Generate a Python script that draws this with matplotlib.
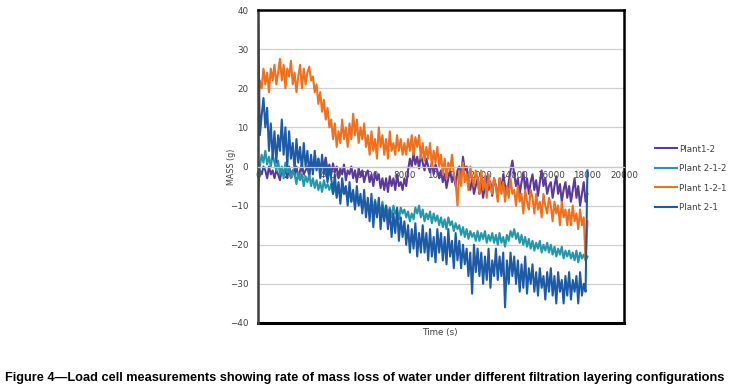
import matplotlib
matplotlib.use("Agg")
import matplotlib.pyplot as plt
import numpy as np

time_step = 100
time_max = 18000

plant1_2 = [
    0, -1, -2, 0, -1, -3, 0, -2, -1, -3,
    -1, -2, -3.5, -0.5, -2, -1, -3, 0, -2, -1,
    -2, 0, -3, -1, 0.5, -2, -1, 0, -2.5, 1,
    -1, 1, -0.5, 2, -1, 1.5, 0, 2.3, -1, 0.5,
    -2, 0.8, -1.5, 0, -3, -0.5, -2, 0.5, -3.5, -1,
    -2, 0, -3, -1, -4, -0.5, -2.5, -1, -4, -2,
    -1, -4, -2, -5, -1.5, -3.5, -2, -5.5, -3, -6,
    -3, -6.5, -2.5, -5, -3, -6, -2, -5, -4, -6,
    -3, -5, -1, 2, 0, 3.5, 0.5, 2.5, -0.5, 3,
    1, -1, 2, 0, -1.5, 1, -2, 0.5, -1, -3,
    -1, -4, -2, -5.5, -3, -1, -4, -2, -5, -1,
    0, -3, 2.5, -1, 0, -4, -6, -3, -7, -5,
    -3, -7, -4, -8, -5, -2.5, -6, -4, -7.5, -3,
    -5, -8, -3, -6, -2, -5, -7, -4, -1, 1.5,
    -2, -5, -3, -7, -4, -1.5, -6, -3, -7, -4,
    -2, -6, -3.5, -7.5, -4, -1, -5, -3, -7, -5,
    -4, -8, -5, -2.5, -7, -4.5, -9, -6, -4, -8,
    -5, -9, -6, -3, -8, -5, -10, -7, -4, -9,
    -7,
]

plant2_1_2 = [
    -7, 0, 3, 1, 4, 0.5, 2.5, 0, 3, 1,
    -1, 1.5, -2, 0, -3, 1, -1.5, -0.5, -3, -1,
    -2, -4.5, -1.5, -3.5, -2, -5, -2.5, -4, -2, -5,
    -3, -5.5, -3.5, -6, -4, -6.5, -3.5, -5.5, -4.5, -6,
    -4.5, -7, -5, -7.5, -4.5, -8, -5.5, -7, -6, -8.5,
    -6.5, -9, -7, -10, -7.5, -9.5, -8, -11, -8.5, -10.5,
    -9, -12, -9.5, -11, -8.5, -12, -10, -11.5, -9, -12.5,
    -10, -12.5, -10.5, -13, -10, -12, -11, -13.5, -10.5, -12,
    -11, -13, -11.5, -14, -12, -13.5, -10.5, -12, -10, -13,
    -11, -14, -12, -13.5, -11.5, -14.5, -12, -14, -12.5, -15,
    -13, -15.5, -13.5, -16, -13, -15, -14, -16.5, -14.5, -16,
    -15, -17.5, -15.5, -18, -16, -18.5, -16.5, -18, -17, -19,
    -16.5, -19, -17, -18.5, -16.5, -19.5, -17.5, -19, -17, -19.5,
    -17.5, -20, -17, -19.5, -18, -20.5, -17.5, -19, -16.5, -18,
    -16, -18.5, -17, -19.5, -17.5, -20, -18, -20.5, -18.5, -21,
    -19, -21.5, -19.5, -21, -19, -22, -20, -21.5, -19.5, -22,
    -20, -22.5, -20.5, -23, -21, -22.5, -20.5, -23.5, -21.5, -23,
    -21.5, -23.5, -22, -24, -21.5, -24.5, -22, -23.5, -22.5, -24,
    -23,
]

plant1_2_1 = [
    14, 22, 20, 25, 21, 24, 19, 25, 22, 26,
    21, 24, 27.5, 22, 26, 20, 25, 23, 27, 21,
    24, 19, 23, 26, 20, 25, 21, 24, 25.5, 22,
    23, 19, 21, 16, 19, 14, 17, 12, 15, 10,
    12, 7, 11, 5, 9, 6, 12, 7, 10, 5,
    11, 7, 13.5, 8, 12, 6, 10, 7, 11, 5,
    8, 3, 9, 4, 7, 2, 10, 5, 8, 3,
    7, 2, 9, 4, 6, 3, 8, 4, 7, 3,
    6, 3, 7, 4, 8, 3, 7.5, 5, 8, 2,
    6, 1.5, 5, 2, 6, 0, 4, 1, 5, 0,
    3, -2, 2, -3, 1, -1, 3, -2, -4, -10,
    -1, -5, 1, -4, -2, -6, 0, -3, -5, -1,
    -3, -7, -1, -6, -3, -8, -2, -5, -7, -3,
    -5, -9, -3, -7, -4, -9, -5, -8, -3, -7,
    -6, -10, -5, -9, -7, -12, -6, -9, -11, -6,
    -8, -12, -7, -11, -9, -13, -7, -10, -12, -8,
    -10, -14, -9, -12, -10, -15, -9, -13, -11, -15,
    -11, -15, -10, -14, -12, -16, -11, -15, -13, -24,
    -14,
]

plant2_1 = [
    40, 8, 13, 17.5, 10, 15, 4, 11, 2, 9,
    1, 8, 4, 12, 3, 10, 0, 9, 2, 6,
    -1, 7, 1, 5, -1, 6, 0, 4, -2, 3,
    -2, 4, -1, 2, -3, 3, -2, 1, -4, 0,
    -3, -7, -2, -8, -4, -9.5, -3, -7, -5, -10,
    -4, -9, -6, -11, -5, -10, -7, -12, -6, -13,
    -8, -14, -7, -15.5, -9, -13, -8, -16, -10, -14,
    -10, -16, -11, -18, -12, -17, -10.5, -19, -13, -18,
    -14, -20, -15, -22, -16, -21, -14.5, -23, -17, -22,
    -15, -22, -17, -24, -16, -23, -18, -24.5, -16, -22,
    -17, -24, -18, -25, -16, -23, -19, -26, -17, -24,
    -19, -26, -20, -25, -21, -28, -22, -32.5, -20, -27,
    -21, -28, -22, -30, -23, -29, -21, -31, -24, -28,
    -21, -29, -23, -28, -22, -36, -24, -30, -22, -28,
    -23, -30, -24, -32, -25, -31, -23, -32.5, -26, -30,
    -25, -32, -27, -33, -26, -31, -28, -34, -27, -32,
    -26, -33, -28, -35, -27, -32, -29, -35, -28, -33,
    -27, -34, -29, -32, -28, -35, -27, -33, -30, -32,
    -1,
]

series_names = ["Plant1-2", "Plant 2-1-2", "Plant 1-2-1", "Plant 2-1"]
series_values = [plant1_2, plant2_1_2, plant1_2_1, plant2_1]
series_colors = ["#5B3A98", "#2398AC", "#F0701E", "#1D5BA6"]

x_ticks = list(range(0, 20001, 2000))
y_ticks = list(range(-40, 41, 10))

caption = ("Figure 4\u2014Load cell measurements showing rate of mass loss of water "
           "under different filtration layering configurations")

t = np.arange(0, time_max + 1, time_step)

W, H = 734, 390
fig = plt.figure(figsize=(W / 100, H / 100), dpi=100)
ax = fig.add_axes([258 / W, 1 - 323 / H, (624 - 258) / W, (323 - 10) / H])

for name, vals, col in zip(series_names, series_values, series_colors):
    ax.plot(t, vals, color=col, lw=1.5, label=name)

ax.set_xlim(0, 20000)
ax.set_ylim(-40, 40)
ax.set_yticks(y_ticks)
ax.set_xticks(x_ticks)
ax.set_xticklabels([str(v) for v in x_ticks])
ax.grid(axis="y", color="#D0D0D0", lw=0.9)
ax.set_axisbelow(True)

for s in ["top", "right", "left"]:
    ax.spines[s].set_color("black")
    ax.spines[s].set_linewidth(1.8)
ax.spines["left"].set_color("#404040")
ax.spines["bottom"].set_position(("data", 0))
ax.spines["bottom"].set_color("#C8C8C8")
ax.spines["bottom"].set_linewidth(0.9)
ax.plot([0, 1], [0, 0], transform=ax.transAxes, color="black", lw=2.2, clip_on=False)

ax.tick_params(axis="x", length=0, pad=3, labelsize=6.3, labelcolor="#404040")
ax.tick_params(axis="y", length=0, pad=7, labelsize=6.3, labelcolor="#404040")
for lbl in ax.get_xticklabels():
    lbl.set_zorder(5)

fig.text(232 / W, 1 - 167 / H, "MASS (g)", rotation=90, ha="center", va="center",
         fontsize=5.8, color="#404040")
fig.text(440 / W, 1 - 332 / H, "Time (s)", ha="center", va="center",
         fontsize=6.3, color="#404040")

handles, labels = ax.get_legend_handles_labels()
leg = fig.legend(handles, labels, loc="upper left", bbox_to_anchor=(651 / W, 1 - 141 / H),
                 frameon=False, fontsize=6.3, handlelength=2.6, handletextpad=0.25,
                 labelspacing=1.2, borderaxespad=0)
for txt in leg.get_texts():
    txt.set_color("#404040")

cap = fig.text(365 / W, 1 - 378 / H, caption, ha="center", va="center",
               fontsize=9.0, fontweight="bold", family="Liberation Sans")
fig.canvas.draw()
renderer = fig.canvas.get_renderer()
width_px = cap.get_window_extent(renderer).width
cap.set_fontsize(9.0 * 718 / width_px)

fig.savefig("out.png", dpi=100)
